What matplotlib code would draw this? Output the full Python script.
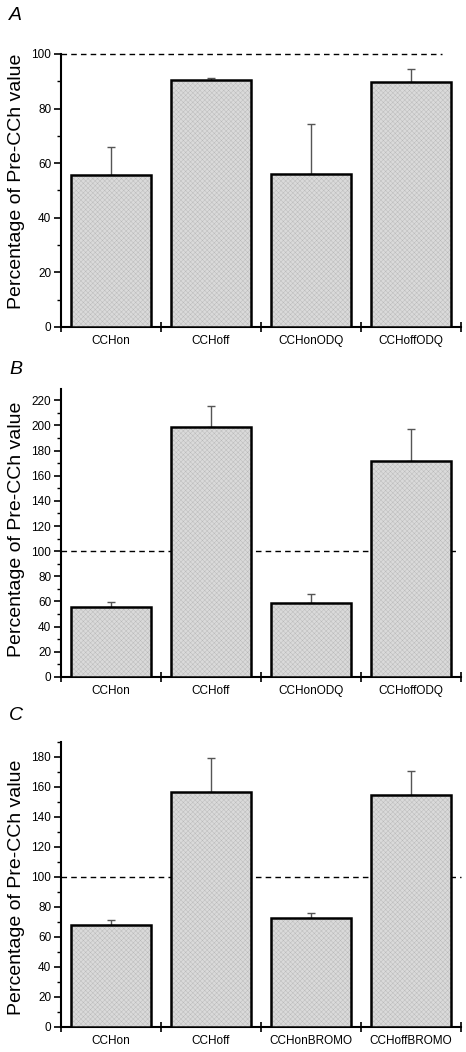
import numpy as np
import matplotlib
matplotlib.use('Agg')
import matplotlib.pyplot as plt
from matplotlib.ticker import MultipleLocator, FixedLocator

plt.rcParams['font.family'] = ['Liberation Sans', 'DejaVu Sans']
plt.rcParams['hatch.linewidth'] = 0.3

labels_a = ['CCHon', 'CCHoff', 'CCHonODQ', 'CCHoffODQ']
means_a = [55.8, 90.5, 56.1, 89.7]
errs_a = [10.0, 0.7, 18.4, 4.7]

labels_b = ['CCHon', 'CCHoff', 'CCHonODQ', 'CCHoffODQ']
means_b = [55.9, 198.7, 58.5, 171.5]
errs_b = [3.9, 16.7, 7.2, 25.3]

labels_c = ['CCHon', 'CCHoff', 'CCHonBROMO', 'CCHoffBROMO']
means_c = [67.8, 156.7, 72.7, 154.9]
errs_c = [3.3, 22.9, 3.3, 16.0]

# letter, labels, means, errors, y top, dashed-line end, axes rect, letter y, ylabel y
panels = [
    ('A', labels_a, means_a, errs_a, 100, 0.953, [0.1309, 0.6892, 0.8584, 0.2595], 0.9857, 0.535),
    ('B', labels_b, means_b, errs_b, 229, 0.99, [0.1309, 0.3565, 0.8584, 0.2738], 0.6483, 0.514),
    ('C', labels_c, means_c, errs_c, 190, 1.0, [0.1309, 0.0238, 0.8584, 0.2709], 0.3203, 0.49),
]

fig = plt.figure(figsize=(4.66, 10.52), dpi=100)

for letter, labels, means, errs, ytop, dash_end, pos, letter_y, label_y in panels:
    ax = fig.add_axes(pos)
    x = np.arange(len(labels))
    ax.axhline(100, xmin=0, xmax=dash_end, color='black', linestyle=(0, (4, 3)),
               linewidth=1.0, zorder=1, clip_on=False)
    ax.errorbar(x, means, yerr=[np.zeros(len(errs)), errs], fmt='none',
                ecolor='#555555', elinewidth=1.0, capsize=3, capthick=1.0, zorder=2)
    ax.bar(x, means, width=0.8, color='#dadada', edgecolor='#b8b8b8', hatch='xxxxxxx',
           linewidth=0, zorder=3)
    ax.bar(x, means, width=0.8, fill=False, edgecolor='black', linewidth=1.8, zorder=4)

    ax.set_xlim(-0.5, len(labels) - 0.5)
    ax.set_ylim(0, ytop)
    ax.spines['top'].set_visible(False)
    ax.spines['right'].set_visible(False)
    ax.spines['left'].set_linewidth(1.5)
    ax.spines['bottom'].set_linewidth(1.5)

    ax.set_xticks(x)
    ax.set_xticklabels(labels, fontsize=8.5)
    ax.tick_params(axis='x', which='major', length=0, pad=6)
    ax.xaxis.set_minor_locator(FixedLocator(np.arange(-0.5, len(labels), 1.0)))
    ax.tick_params(axis='x', which='minor', direction='inout', length=7, width=1.2)

    ax.yaxis.set_major_locator(MultipleLocator(20))
    ax.yaxis.set_minor_locator(MultipleLocator(10))
    ax.tick_params(axis='y', which='major', direction='out', length=5, width=1.2,
                   labelsize=8.5, pad=2)
    ax.tick_params(axis='y', which='minor', direction='out', length=3, width=1.0)

    ax.set_ylabel('Percentage of Pre-CCh value', fontsize=14)
    ax.yaxis.set_label_coords(-0.09, label_y)

    fig.text(0.02, letter_y, letter, fontsize=14, style='italic', ha='left', va='center')

plt.savefig('out.png', dpi=100)
